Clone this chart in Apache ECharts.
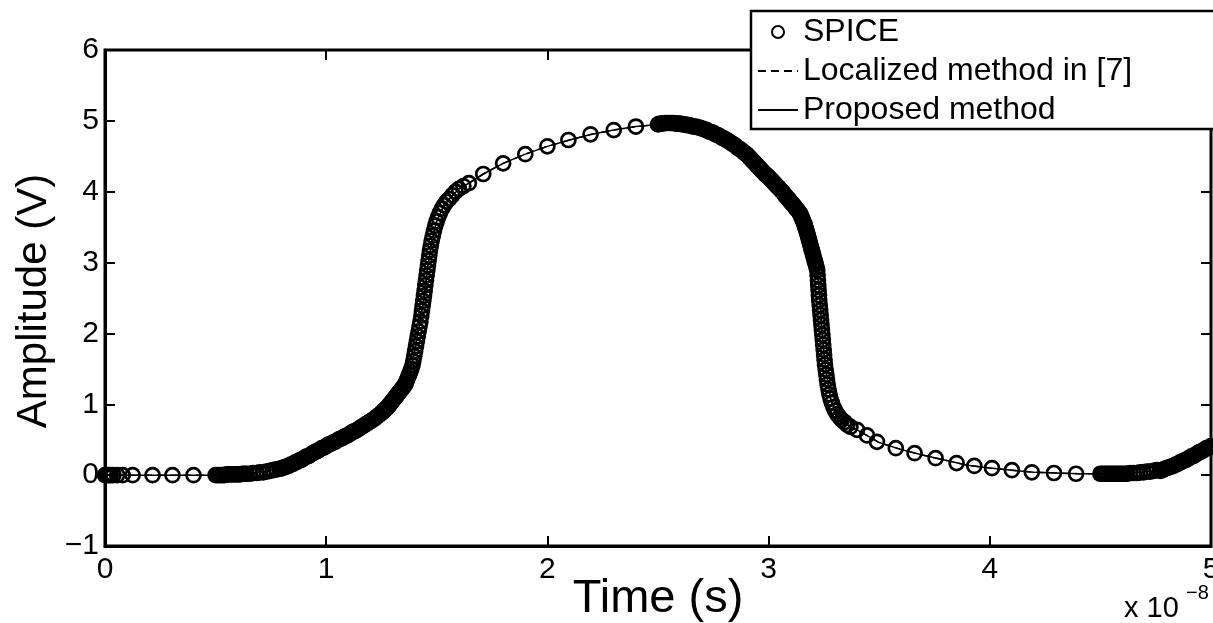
<!DOCTYPE html>
<html><head><meta charset="utf-8">
<script src="https://cdn.jsdelivr.net/npm/echarts@6/dist/echarts.min.js"></script>
<style>html,body{margin:0;padding:0;background:#fff}#c{width:1213px;height:623px}</style>
</head><body><div id="c"></div>
<script>
// ---- SPICE samples [time (x1e-8 s), amplitude (V)] ----
const spiceStart = [[0,0.00],[0.008,0.00],[0.016,0.00],[0.026,0.00],[0.038,0.00],[0.055,0.00],[0.08,0.00],[0.125,0.00],[0.215,0.00],[0.305,0.00],[0.40,0.00]];
const spiceLow1 = [[0.50,0.00],[0.51,0.00],[0.52,0.00],[0.53,0.00],[0.54,0.00],[0.55,0.01],[0.56,0.01],[0.57,0.01],[0.58,0.01],[0.59,0.01],[0.60,0.01],[0.61,0.01],[0.62,0.02],[0.63,0.02],[0.64,0.02],
  [0.655,0.02],[0.67,0.03],[0.685,0.03],[0.70,0.04],[0.715,0.04],[0.73,0.05],[0.745,0.06],[0.76,0.07],[0.775,0.08]];
const spiceRamp1 = [[0.79,0.09],[0.80,0.10],[0.81,0.11],[0.82,0.12],[0.83,0.13],[0.84,0.15],[0.85,0.16],[0.86,0.18],[0.87,0.19],[0.88,0.21],[0.89,0.22],[0.90,0.24],[0.91,0.26],[0.92,0.27],[0.93,0.29],[0.94,0.31],[0.95,0.33],[0.96,0.34],[0.97,0.36],[0.98,0.38],[0.99,0.39],[1.00,0.41],[1.01,0.43],[1.02,0.44],[1.03,0.46],[1.04,0.47],[1.05,0.49],[1.06,0.51],[1.07,0.52],[1.08,0.54],[1.09,0.55],[1.10,0.57],[1.11,0.59],[1.12,0.61],[1.13,0.62],[1.14,0.64],[1.15,0.66],[1.16,0.68],[1.17,0.70],[1.18,0.72],[1.19,0.74],[1.20,0.76],[1.21,0.78],[1.22,0.80],[1.23,0.83],[1.24,0.85],[1.25,0.88],[1.255,0.89],[1.26,0.91],[1.265,0.92],[1.27,0.94],[1.275,0.95],[1.28,0.97],[1.285,0.99],[1.29,1.01],[1.295,1.03],[1.30,1.05],[1.305,1.07],[1.31,1.09],[1.315,1.11],[1.32,1.13],[1.325,1.15],[1.33,1.17],[1.335,1.19],[1.34,1.21],[1.345,1.23],[1.35,1.25],[1.355,1.27],[1.36,1.30]];
const spiceRise = [[1.365,1.34],[1.37,1.38],[1.375,1.42],[1.38,1.46],[1.385,1.50],[1.39,1.55],[1.394,1.61],[1.398,1.68],[1.402,1.75],[1.406,1.82],[1.410,1.89],[1.414,1.96],[1.418,2.03],[1.422,2.10],[1.426,2.17],[1.430,2.25],[1.433,2.32],[1.436,2.39],[1.439,2.46],[1.442,2.53],[1.445,2.60],[1.448,2.68],[1.451,2.75],[1.454,2.82],[1.457,2.89],[1.460,2.96],[1.463,3.03],[1.466,3.10],[1.469,3.17],[1.473,3.24],[1.477,3.31],[1.482,3.38],[1.487,3.45],[1.493,3.52],[1.499,3.58],[1.506,3.64],[1.514,3.70],[1.523,3.76],[1.533,3.81],[1.544,3.86],[1.556,3.90],[1.570,3.95],[1.585,4.00],[1.600,4.04],[1.620,4.08]];
const spiceTop = [[1.645,4.12],[1.71,4.25],[1.80,4.40],[1.90,4.53],[2.00,4.64],[2.095,4.73],[2.195,4.81],[2.30,4.87],[2.40,4.92]];
const spicePeak = [[2.50,4.95],[2.51,4.96],[2.52,4.96],[2.53,4.97],[2.54,4.97],[2.55,4.97],[2.56,4.97],[2.57,4.97],[2.58,4.96],[2.59,4.96],[2.60,4.96],[2.61,4.95],[2.62,4.95],[2.63,4.94],[2.64,4.94],[2.65,4.93],[2.66,4.92],[2.67,4.92],[2.68,4.91],[2.69,4.90],[2.70,4.89],[2.71,4.88],[2.72,4.87],[2.73,4.85],[2.74,4.84],[2.75,4.83],[2.76,4.81],[2.77,4.80],[2.78,4.78],[2.79,4.76],[2.80,4.75],[2.81,4.73],[2.82,4.71],[2.83,4.69],[2.84,4.67],[2.85,4.65],[2.86,4.62],[2.87,4.60],[2.88,4.58],[2.89,4.55],[2.90,4.53],
  [2.906,4.51],[2.912,4.49],[2.918,4.47],[2.924,4.45],[2.930,4.43],[2.936,4.41],[2.942,4.39],[2.948,4.37],[2.954,4.35],[2.960,4.33],[2.966,4.31],[2.972,4.29],[2.978,4.27],[2.984,4.25],[2.990,4.23],[2.996,4.22],[3.002,4.20],[3.008,4.18],[3.014,4.16],[3.020,4.14],[3.026,4.12],[3.032,4.10],[3.038,4.08],[3.044,4.06],[3.050,4.04],[3.056,4.02],[3.062,4.00],[3.068,3.98],[3.074,3.95],[3.080,3.93],[3.086,3.91],[3.092,3.89],[3.098,3.86],[3.104,3.84],[3.110,3.82],[3.116,3.80],[3.122,3.77],[3.128,3.75],[3.134,3.73],[3.140,3.70],
  [3.144,3.68],[3.148,3.65],[3.152,3.62],[3.156,3.59],[3.160,3.56],[3.163,3.53],[3.166,3.50],[3.169,3.47],[3.172,3.44],[3.175,3.41],[3.178,3.38],[3.181,3.34],[3.184,3.31],[3.187,3.27],[3.190,3.24],[3.193,3.20],[3.196,3.17],[3.199,3.14],[3.202,3.10],[3.205,3.07],[3.208,3.03],[3.211,3.00],[3.214,2.97],[3.217,2.93],[3.220,2.89]];
const spiceFall = [[3.2215,2.82],[3.223,2.75],[3.2245,2.68],[3.226,2.61],[3.2275,2.54],[3.229,2.47],[3.231,2.40],[3.233,2.33],[3.235,2.26],[3.237,2.19],[3.239,2.12],[3.241,2.05],[3.243,1.98],[3.245,1.91],[3.247,1.84],[3.249,1.77],[3.251,1.70],[3.253,1.63],[3.255,1.56],[3.258,1.49],[3.261,1.42],[3.264,1.35],[3.267,1.28],[3.271,1.21],[3.275,1.14],[3.280,1.08],[3.286,1.02],[3.293,0.96],[3.301,0.91],[3.310,0.86],[3.320,0.82],[3.331,0.78],[3.343,0.75],[3.356,0.71],[3.370,0.68]];
const spiceTail = [[3.40,0.64],[3.445,0.56],[3.49,0.47],[3.575,0.38],[3.66,0.31],[3.755,0.24],[3.85,0.17],[3.93,0.13],[4.01,0.10],[4.10,0.07],[4.19,0.04],[4.29,0.03],[4.39,0.02]];
const spiceLow2 = [[4.50,0.02],[4.51,0.02],[4.52,0.02],[4.53,0.02],[4.54,0.02],[4.55,0.02],[4.56,0.02],[4.57,0.02],[4.58,0.02],[4.59,0.02],[4.60,0.02],[4.61,0.02],[4.62,0.02],
  [4.635,0.03],[4.65,0.03],[4.665,0.03],[4.68,0.04],[4.695,0.04],[4.71,0.05],[4.725,0.05],[4.74,0.06],[4.755,0.07]];
const spiceRamp2 = [[4.77,0.06],[4.78,0.07],[4.79,0.09],[4.80,0.10],[4.81,0.11],[4.82,0.12],[4.83,0.13],[4.84,0.15],[4.85,0.16],[4.86,0.18],[4.87,0.19],[4.88,0.21],[4.89,0.22],[4.90,0.24],[4.91,0.26],[4.92,0.27],[4.93,0.29],[4.94,0.31],[4.95,0.33],[4.96,0.34],[4.97,0.36],[4.98,0.38],[4.99,0.39],[5.00,0.41]];

// ---- simulated waveforms (same time grid) ----
const curveTime = [0,0.1,0.2,0.3,0.4,0.5,0.6,0.7,0.78,0.85,0.9,1.0,1.1,1.2,1.25,1.3,1.35,1.38,1.40,1.42,1.44,1.46,1.48,1.50,1.53,1.56,1.60,1.65,1.71,1.80,1.90,2.0,2.1,2.2,2.3,2.4,2.5,2.55,2.6,2.7,2.8,2.9,3.0,3.06,3.12,3.16,3.19,3.21,3.22,3.23,3.24,3.25,3.26,3.28,3.30,3.33,3.37,3.40,3.45,3.5,3.6,3.7,3.8,3.9,4.0,4.1,4.2,4.3,4.4,4.5,4.6,4.7,4.78,4.85,4.9,5.0];
const localizedAmp = [0,0,0,0,0,0,0.01,0.04,0.08,0.16,0.24,0.41,0.57,0.76,0.88,1.05,1.25,1.46,1.75,2.10,2.46,2.96,3.35,3.59,3.79,3.91,4.04,4.13,4.25,4.40,4.53,4.64,4.73,4.81,4.87,4.92,4.95,4.97,4.96,4.89,4.75,4.53,4.21,4.00,3.78,3.56,3.24,3.00,2.89,2.58,2.09,1.74,1.45,1.08,0.92,0.79,0.68,0.64,0.55,0.46,0.36,0.28,0.21,0.14,0.10,0.07,0.04,0.03,0.02,0.02,0.02,0.05,0.07,0.16,0.24,0.41];
const proposedAmp  = [0,0,0,0,0,0,0.01,0.04,0.08,0.16,0.24,0.41,0.57,0.76,0.88,1.05,1.25,1.46,1.75,2.10,2.46,2.96,3.35,3.59,3.79,3.91,4.04,4.13,4.25,4.40,4.53,4.64,4.73,4.81,4.87,4.92,4.95,4.97,4.96,4.89,4.75,4.53,4.21,4.00,3.78,3.56,3.24,3.00,2.89,2.58,2.09,1.74,1.45,1.08,0.92,0.79,0.68,0.64,0.55,0.46,0.36,0.28,0.21,0.14,0.10,0.07,0.04,0.03,0.02,0.02,0.02,0.05,0.07,0.16,0.24,0.41];

const seriesNames = ['SPICE','Localized method in [7]','Proposed method'];
const xTicks = {min:0,max:5,interval:1};
const yTicks = {min:-1,max:6,interval:1};

const FONT = '"Liberation Sans", Arial, Helvetica, sans-serif';
const spice = [].concat(spiceStart, spiceLow1, spiceRamp1, spiceRise, spiceTop, spicePeak, spiceFall, spiceTail, spiceLow2, spiceRamp2);
const localized = curveTime.map((t,i)=>[t, localizedAmp[i]]);
const proposed = curveTime.map((t,i)=>[t, proposedAmp[i]]);

const chart = echarts.init(document.getElementById('c'), null, {renderer:'canvas'});
const tickStyle = {inside:true,length:10,lineStyle:{color:'#000',width:2}};
const hiddenSymbol = {color:'rgba(0,0,0,0)',borderWidth:0,borderColor:'rgba(0,0,0,0)'};
const option = {
  animation:false,
  backgroundColor:'#fff',
  grid:{left:105,right:2,top:50,bottom:77,show:true,borderColor:'#000',borderWidth:3,
        backgroundColor:'rgba(0,0,0,0)',containLabel:false,outerBoundsMode:'none'},
  xAxis:[
    {type:'value',min:xTicks.min,max:xTicks.max,interval:xTicks.interval,position:'bottom',
     axisLine:{show:true,onZero:false,lineStyle:{color:'#000',width:3}},axisTick:tickStyle,
     axisLabel:{color:'#000',fontSize:30,fontFamily:FONT,margin:9},splitLine:{show:false},
     name:'Time (s)',nameLocation:'middle',nameGap:30,nameMoveOverlap:false,
     nameTextStyle:{fontSize:47,color:'#000',fontFamily:FONT}},
    {type:'value',min:xTicks.min,max:xTicks.max,interval:xTicks.interval,position:'top',
     axisLine:{show:false,onZero:false},axisTick:tickStyle,axisLabel:{show:false},splitLine:{show:false}}
  ],
  yAxis:[
    {type:'value',min:yTicks.min,max:yTicks.max,interval:yTicks.interval,position:'left',
     axisLine:{show:true,onZero:false,lineStyle:{color:'#000',width:3}},axisTick:tickStyle,
     axisLabel:{color:'#000',fontSize:30,fontFamily:FONT,margin:6,formatter:v=>v<0?'\u2212'+Math.abs(v):String(v)},
     splitLine:{show:false},
     name:'Amplitude (V)',nameLocation:'middle',nameGap:50,nameMoveOverlap:false,
     nameTextStyle:{fontSize:42,color:'#000',fontFamily:FONT,padding:[0,6,0,0]}},
    {type:'value',min:yTicks.min,max:yTicks.max,interval:yTicks.interval,position:'right',
     axisLine:{show:false,onZero:false},axisTick:tickStyle,axisLabel:{show:false},splitLine:{show:false}}
  ],
  legend:{
    orient:'vertical',left:751,top:11,padding:[5,140,3,6],itemGap:7,itemWidth:40,itemHeight:12,
    backgroundColor:'#fff',borderColor:'#000',borderWidth:2.5,borderRadius:0,selectedMode:false,
    textStyle:{fontSize:32,color:'#000',fontFamily:FONT},
    lineStyle:{width:2},
    data:[
      {name:seriesNames[0]},
      {name:seriesNames[1],itemStyle:hiddenSymbol},
      {name:seriesNames[2],itemStyle:hiddenSymbol}
    ]
  },
  series:[
    {name:seriesNames[0],type:'scatter',data:spice,symbol:'circle',symbolSize:14,
     itemStyle:{color:'rgba(0,0,0,0)',borderColor:'#000',borderWidth:2.7,opacity:1},z:4,silent:true},
    {name:seriesNames[1],type:'line',data:localized,symbol:'none',showSymbol:false,
     lineStyle:{color:'#000',width:1.5,type:[8,5]},itemStyle:{color:'#000'},z:3,silent:true},
    {name:seriesNames[2],type:'line',data:proposed,symbol:'none',showSymbol:false,
     lineStyle:{color:'#000',width:1.5},itemStyle:{color:'#000'},z:3,silent:true}
  ],
  graphic:[
    {type:'text',left:1124,top:594,style:{text:'x 10',fontSize:29,fontFamily:FONT,fill:'#000'}},
    {type:'text',left:1186,top:583,style:{text:'\u22128',fontSize:20,fontFamily:FONT,fill:'#000'}}
  ]
};
chart.setOption(option);
</script></body></html>
